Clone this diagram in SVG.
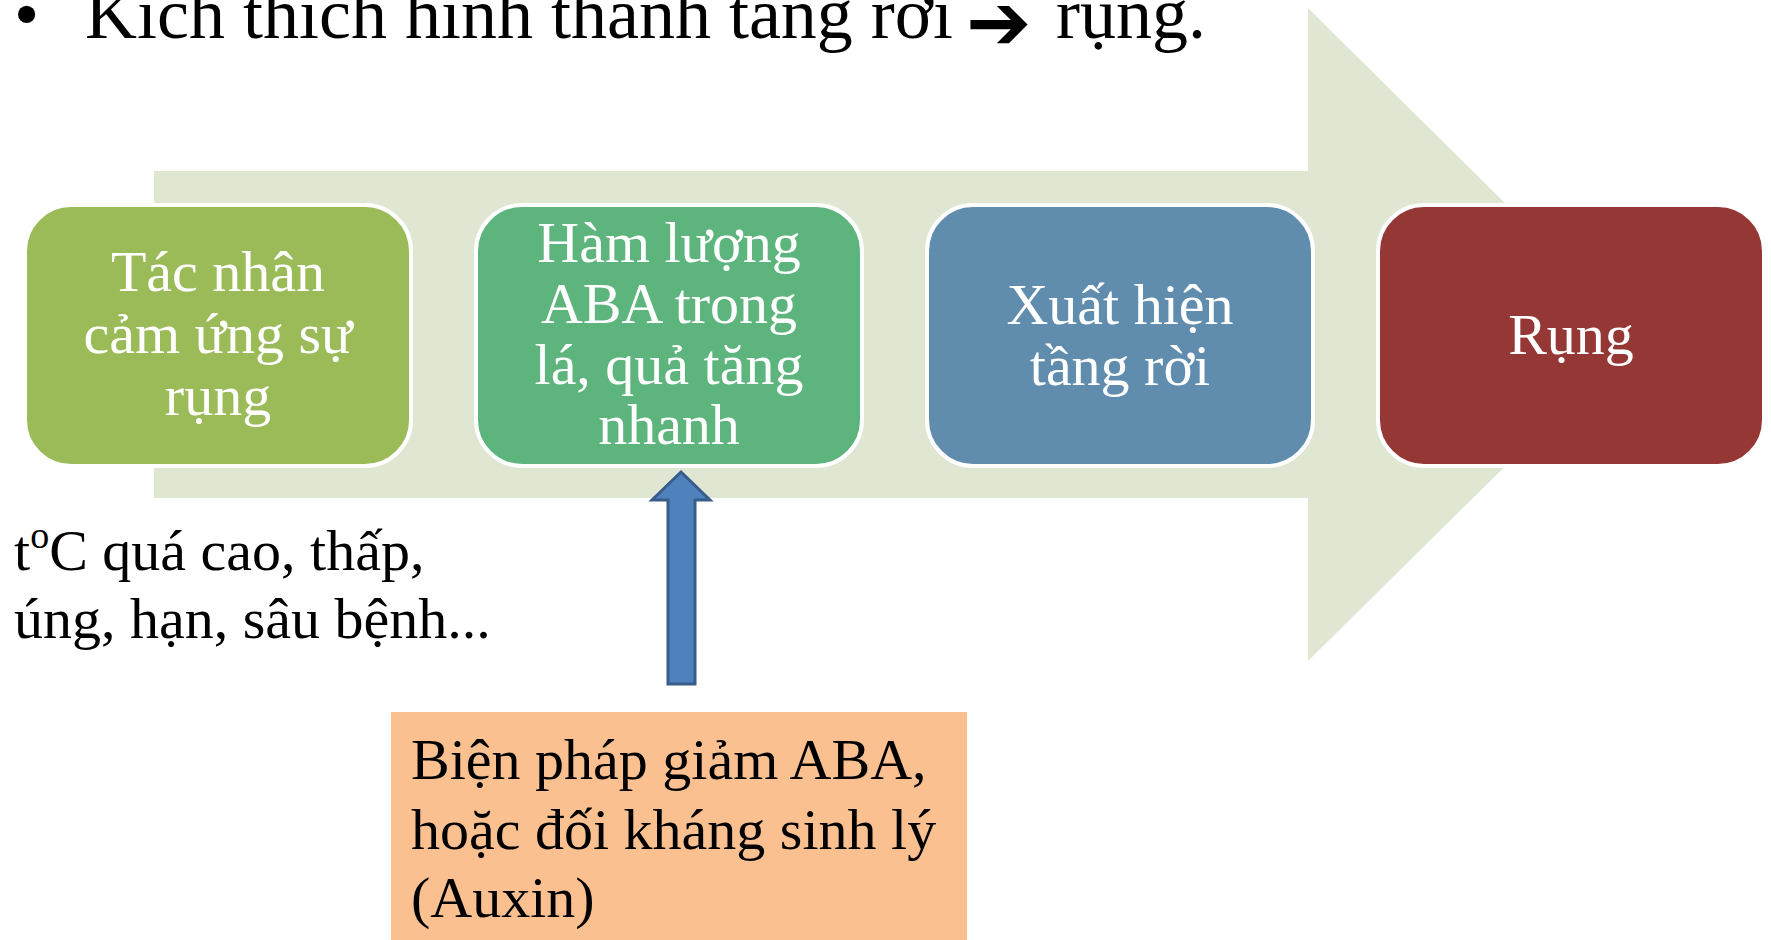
<svg xmlns="http://www.w3.org/2000/svg" width="1771" height="940" viewBox="0 0 1771 940">
<style>
text{font-family:"Liberation Serif","Times New Roman",serif}
.t{font-size:72px;fill:#000}
.bx{stroke:#fff;stroke-width:4}
.w{font-size:58px;fill:#fff;text-anchor:middle}
.k{font-size:58px;fill:#000}
</style>
<rect width="1771" height="940" fill="#fff"/>
<g id="title">
<text class="t" x="14" y="38">•</text>
<text class="t" x="85" y="38">Kích thích hình thành tầng rời</text>
<text x="966" y="49" style="font-family:'DejaVu Sans',sans-serif;font-size:78px">➔</text>
<text class="t" x="1056" y="38">rụng.</text>
</g>
<g id="bigArrow">
<polygon points="154,171 1308,171 1308,8 1638,335 1308,661 1308,498 154,498" fill="#DFE7D3"/>
</g>
<g id="n1">
<rect class="bx" x="25" y="205" width="386" height="261" rx="46" fill="#9BBB59"/>
<text class="w" x="218" y="291">Tác nhân</text>
<text class="w" x="218" y="353">cảm ứng sự</text>
<text class="w" x="218" y="415">rụng</text>
</g>
<g id="n2">
<rect class="bx" x="476" y="205" width="386" height="261" rx="46" fill="#5DB47D"/>
<text class="w" x="669" y="262">Hàm lượng</text>
<text class="w" x="669" y="323">ABA trong</text>
<text class="w" x="669" y="384">lá, quả tăng</text>
<text class="w" x="669" y="444">nhanh</text>
</g>
<g id="n3">
<rect class="bx" x="927" y="205" width="386" height="261" rx="46" fill="#608DAE"/>
<text class="w" x="1120" y="324">Xuất hiện</text>
<text class="w" x="1120" y="385">tầng rời</text>
</g>
<g id="n4">
<rect class="bx" x="1378" y="205" width="386" height="261" rx="46" fill="#953735"/>
<text class="w" x="1571" y="354">Rụng</text>
</g>
<g id="causes">
<text class="k" x="14" y="570">t<tspan font-size="38" dy="-22">o</tspan><tspan dy="22">C quá cao, thấp,</tspan></text>
<text class="k" x="14" y="638">úng, hạn, sâu bệnh...</text>
</g>
<g id="connectors">
<polygon points="681,472 710,500 695,500 695,684 668,684 668,500 652,500" fill="#4F81BD" stroke="#385D8A" stroke-width="3" stroke-linejoin="miter"/>
</g>
<g id="measures">
<rect x="391" y="712" width="576" height="228" fill="#FAC090"/>
<text class="k" x="411" y="779">Biện pháp giảm ABA,</text>
<text class="k" x="411" y="849">hoặc đối kháng sinh lý</text>
<text class="k" x="411" y="917">(Auxin)</text>
</g>
</svg>
